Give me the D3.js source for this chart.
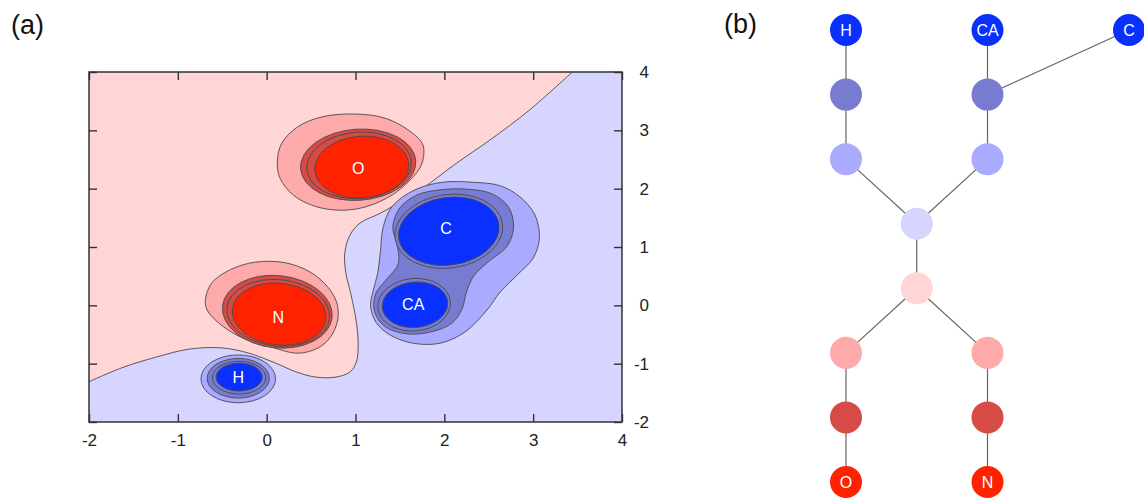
<!DOCTYPE html>
<html>
<head>
<meta charset="utf-8">
<script src="https://cdn.jsdelivr.net/npm/d3@7"></script>
<style>
  body { margin: 0; background: #fff; }
  svg { display: block; font-family: "Liberation Sans", Arial, Helvetica, sans-serif; }
  .contour { stroke: #4a4a4a; stroke-width: 0.9; }
  .axis path { display: none; }
  .axis line { stroke: #333; stroke-width: 1.4; }
  .axis text { font-size: 17px; fill: #222; }
  .link { stroke: #666; stroke-width: 1.2; }
  .atom { fill: #fff; font-size: 16px; text-anchor: middle; dominant-baseline: central; }
</style>
</head>
<body>
<svg id="chart" width="1144" height="498"></svg>
<script>
// --- data (panel a, all in plot units) ---
const xTicks = [-2, -1, 0, 1, 2, 3, 4];
const yTicks = [-2, -1, 0, 1, 2, 3, 4];
const levels = [-4, -3, -2, -1, 1, 2, 3, 4];
const levelColors = ["#ff2200", "#d64b45", "#ffaaaa", "#ffd5d5", "#d5d5ff", "#aaaaff", "#787cd0", "#0a30ff"];

// zero contour, from top edge down to the left edge
const zeroLine = [
  [3.44, 4], [2.96, 3.35], [2.51, 2.83], [2.14, 2.44], [1.73, 1.98], [1.28, 1.58],
  [1.05, 1.41], [0.94, 1.21], [0.88, 0.91], [0.89, 0.57], [0.95, 0.18], [1.01, -0.29],
  [1.03, -0.68], [1.01, -0.97], [0.94, -1.14], [0.78, -1.23], [0.55, -1.23], [0.33, -1.14],
  [0.10, -0.99], [-0.20, -0.82], [-0.50, -0.73], [-0.87, -0.75], [-1.25, -0.89],
  [-1.63, -1.07], [-2, -1.31]
];

const oOuter = [
  [0.12, 2.46], [0.17, 2.78], [0.35, 3.06], [0.62, 3.23], [0.99, 3.28], [1.33, 3.21],
  [1.59, 3.01], [1.75, 2.78], [1.77, 2.61], [1.73, 2.37], [1.59, 2.11], [1.41, 1.89],
  [1.14, 1.70], [0.85, 1.63], [0.54, 1.70], [0.30, 1.89], [0.15, 2.18]
];
const nOuter = [
  [-0.69, 0.09], [-0.62, 0.38], [-0.41, 0.61], [-0.13, 0.74], [0.21, 0.73], [0.49, 0.57],
  [0.69, 0.31], [0.79, 0.04], [0.80, -0.25], [0.72, -0.54], [0.58, -0.73], [0.35, -0.82],
  [0.04, -0.71], [-0.30, -0.54], [-0.55, -0.29], [-0.67, -0.08]
];
const ccaOuter = [
  [2.32, 2.11], [2.63, 2.05], [2.85, 1.86], [3.02, 1.55], [3.07, 1.15], [3.00, 0.81],
  [2.82, 0.52], [2.63, 0.23], [2.48, -0.08], [2.23, -0.46], [1.95, -0.65], [1.65, -0.65],
  [1.39, -0.51], [1.23, -0.29], [1.17, -0.01], [1.20, 0.26], [1.25, 0.55], [1.28, 0.91],
  [1.31, 1.33], [1.41, 1.69], [1.67, 1.98], [1.98, 2.11]
];
const ccaMiddle = [
  [1.95, 1.98], [2.27, 1.99], [2.54, 1.91], [2.72, 1.69], [2.78, 1.36], [2.71, 1.02],
  [2.49, 0.74], [2.33, 0.50], [2.25, 0.23], [2.20, -0.06], [2.09, -0.30], [1.89, -0.44],
  [1.58, -0.49], [1.32, -0.35], [1.21, -0.08], [1.23, 0.21], [1.34, 0.43], [1.48, 0.71],
  [1.47, 1.03], [1.42, 1.34], [1.50, 1.67], [1.69, 1.89]
];

const blobs = [
  { level: -2, points: oOuter },
  { level: -2, points: nOuter },
  { level: 2, points: ccaOuter },
  { level: 3, points: ccaMiddle }
];

// elliptical contours: centre, half axes (plot units), tilt in degrees
const ellipses = [
  { level: -3, cx: 1.03, cy: 2.41, rx: 0.65, ry: 0.61, tilt: -4 },
  { level: -3, cx: 1.04, cy: 2.40, rx: 0.59, ry: 0.57, tilt: -4 },
  { level: -4, cx: 1.07, cy: 2.37, rx: 0.53, ry: 0.53, tilt: -4 },
  { level: -3, cx: 0.12, cy: -0.11, rx: 0.62, ry: 0.62, tilt: 6 },
  { level: -3, cx: 0.13, cy: -0.13, rx: 0.58, ry: 0.57, tilt: 6 },
  { level: -4, cx: 0.14, cy: -0.15, rx: 0.53, ry: 0.53, tilt: 6 },
  { level: 2, cx: -0.32, cy: -1.26, rx: 0.42, ry: 0.41, tilt: 0 },
  { level: 3, cx: -0.32, cy: -1.25, rx: 0.35, ry: 0.34, tilt: 0 },
  { level: 3, cx: -0.31, cy: -1.24, rx: 0.30, ry: 0.28, tilt: 0 },
  { level: 4, cx: -0.31, cy: -1.23, rx: 0.26, ry: 0.24, tilt: 0 },
  { level: 3, cx: 2.05, cy: 1.27, rx: 0.61, ry: 0.63, tilt: -8 },
  { level: 4, cx: 2.05, cy: 1.27, rx: 0.57, ry: 0.58, tilt: -8 },
  { level: 3, cx: 1.66, cy: 0.01, rx: 0.41, ry: 0.45, tilt: -5 },
  { level: 4, cx: 1.67, cy: 0.01, rx: 0.37, ry: 0.39, tilt: -5 }
];

const atoms = [
  { name: "O", x: 1.03, y: 2.34 },
  { name: "C", x: 2.02, y: 1.31 },
  { name: "CA", x: 1.65, y: 0.02 },
  { name: "N", x: 0.13, y: -0.20 },
  { name: "H", x: -0.32, y: -1.23 }
];

// --- data (panel b) ---
const treeNodes = [
  { id: "H", label: "H", col: 0, level: 4 },
  { id: "h3", label: "", col: 0, level: 3 },
  { id: "h2", label: "", col: 0, level: 2 },
  { id: "CA", label: "CA", col: 2, level: 4 },
  { id: "c3", label: "", col: 2, level: 3 },
  { id: "c2", label: "", col: 2, level: 2 },
  { id: "C", label: "C", col: 4, level: 4 },
  { id: "p1", label: "", col: 1, level: 1 },
  { id: "m1", label: "", col: 1, level: -1 },
  { id: "o2", label: "", col: 0, level: -2 },
  { id: "o3", label: "", col: 0, level: -3 },
  { id: "O", label: "O", col: 0, level: -4 },
  { id: "n2", label: "", col: 2, level: -2 },
  { id: "n3", label: "", col: 2, level: -3 },
  { id: "N", label: "N", col: 2, level: -4 }
];
const treeLinks = [
  ["H", "h3"], ["h3", "h2"], ["h2", "p1"], ["CA", "c3"], ["C", "c3"], ["c3", "c2"],
  ["c2", "p1"], ["p1", "m1"], ["m1", "o2"], ["o2", "o3"], ["o3", "O"],
  ["m1", "n2"], ["n2", "n3"], ["n3", "N"]
];

// --- drawing ---
const svg = d3.select("#chart");
const color = d3.scaleOrdinal().domain(levels).range(levelColors);
const tickText = d => String(d); // plain hyphen minus, like the original

const x = d3.scaleLinear().domain([-2, 4]).range([89, 622]);
const y = d3.scaleLinear().domain([-2, 4]).range([422, 72]);

svg.append("defs").append("clipPath").attr("id", "plotClip")
  .append("rect")
  .attr("x", x(-2)).attr("y", y(4))
  .attr("width", x(4) - x(-2)).attr("height", y(-2) - y(4));

const plot = svg.append("g").attr("clip-path", "url(#plotClip)");

plot.append("rect")
  .attr("x", x(-2)).attr("y", y(4))
  .attr("width", x(4) - x(-2)).attr("height", y(-2) - y(4))
  .attr("fill", color(1));

const openLine = d3.line().x(d => x(d[0])).y(d => y(d[1])).curve(d3.curveCatmullRom.alpha(0.5));
const closedLine = d3.line().x(d => x(d[0])).y(d => y(d[1])).curve(d3.curveCatmullRomClosed.alpha(0.5));

const zeroPath = openLine(zeroLine);
plot.append("path")
  .attr("d", `M${x(-2)},${y(4)}L` + zeroPath.slice(1) + "Z")
  .attr("fill", color(-1));
plot.append("path")
  .attr("class", "contour")
  .attr("d", zeroPath)
  .attr("fill", "none");

plot.selectAll(".blob")
  .data(blobs)
  .enter()
  .append("path")
  .attr("class", "blob contour")
  .attr("d", d => closedLine(d.points))
  .attr("fill", d => color(d.level));

plot.selectAll(".ell")
  .data(ellipses)
  .enter()
  .append("ellipse")
  .attr("class", "ell contour")
  .attr("cx", d => x(d.cx))
  .attr("cy", d => y(d.cy))
  .attr("rx", d => x(d.cx + d.rx) - x(d.cx))
  .attr("ry", d => y(d.cy) - y(d.cy + d.ry))
  .attr("transform", d => `rotate(${d.tilt},${x(d.cx)},${y(d.cy)})`)
  .attr("fill", d => color(d.level));

plot.selectAll(".atom")
  .data(atoms)
  .enter()
  .append("text")
  .attr("class", "atom")
  .attr("x", d => x(d.x))
  .attr("y", d => y(d.y))
  .text(d => d.name);

// axes with inward ticks
svg.append("g").attr("class", "axis")
  .attr("transform", `translate(0,${y(-2)})`)
  .call(d3.axisBottom(x).tickValues(xTicks).tickSize(-8).tickPadding(12).tickFormat(tickText));
svg.append("g").attr("class", "axis")
  .attr("transform", `translate(0,${y(4)})`)
  .call(d3.axisTop(x).tickValues(xTicks).tickSize(-8).tickFormat(""));
svg.append("g").attr("class", "axis")
  .attr("transform", `translate(${x(-2)},0)`)
  .call(d3.axisLeft(y).tickValues(yTicks).tickSize(-8).tickFormat(""));
svg.append("g").attr("class", "axis")
  .attr("transform", `translate(${x(4)},0)`)
  .call(d3.axisRight(y).tickValues(yTicks).tickSize(-8).tickFormat(tickText))
  .selectAll("text").attr("text-anchor", "end").attr("x", 27);

svg.append("rect")
  .attr("x", x(-2)).attr("y", y(4))
  .attr("width", x(4) - x(-2)).attr("height", y(-2) - y(4))
  .attr("fill", "none").attr("stroke", "#333").attr("stroke-width", 1.5);

svg.append("text").attr("x", 11).attr("y", 34).attr("font-size", 27).attr("fill", "#111").text("(a)");
svg.append("text").attr("x", 724).attr("y", 33).attr("font-size", 27).attr("fill", "#111").text("(b)");

// panel b: tree of contour levels
const colX = d3.scaleLinear().domain([0, 4]).range([846, 1129]);
const rowY = d3.scalePoint().domain([4, 3, 2, 1, -1, -2, -3, -4]).range([30, 482]);
const byId = new Map(treeNodes.map(d => [d.id, d]));

const tree = svg.append("g");
tree.selectAll(".link")
  .data(treeLinks)
  .enter()
  .append("line")
  .attr("class", "link")
  .attr("x1", l => colX(byId.get(l[0]).col))
  .attr("y1", l => rowY(byId.get(l[0]).level))
  .attr("x2", l => colX(byId.get(l[1]).col))
  .attr("y2", l => rowY(byId.get(l[1]).level));

const gNodes = tree.selectAll(".node")
  .data(treeNodes)
  .enter()
  .append("g")
  .attr("class", "node")
  .attr("transform", d => `translate(${colX(d.col)},${rowY(d.level)})`);

gNodes.append("circle")
  .attr("r", 16)
  .attr("fill", d => color(d.level));

gNodes.append("text")
  .attr("class", "atom")
  .attr("font-size", d => d.label.length > 1 ? 15 : 16)
  .text(d => d.label);
</script>
</body>
</html>
